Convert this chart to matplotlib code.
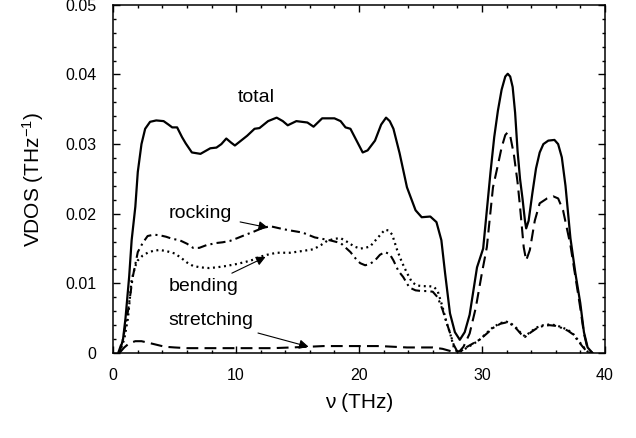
import numpy as np
import matplotlib
matplotlib.use("Agg")
import matplotlib.pyplot as plt
from matplotlib.ticker import MultipleLocator, FuncFormatter

plt.rcParams['font.family'] = ['Liberation Sans', 'DejaVu Sans']
plt.rcParams['mathtext.fontset'] = 'custom'
plt.rcParams['mathtext.rm'] = 'Liberation Sans'
plt.rcParams['mathtext.it'] = 'Liberation Sans:italic'
plt.rcParams['lines.scale_dashes'] = False

# total VDOS
nu_total = [0.5, 0.8, 1.0, 1.3, 1.5, 1.8, 2.0, 2.3, 2.6, 3.0, 3.5, 4.1, 4.5, 4.8, 5.2,
            5.6, 5.9, 6.4, 7.1, 7.5, 7.9, 8.4, 8.8, 9.2, 9.6, 9.9, 10.4, 10.9, 11.5,
            11.9, 12.6, 13.3, 13.8, 14.2, 14.9, 15.8, 16.3, 17.0, 18.0, 18.5, 18.9,
            19.3, 19.8, 20.3, 20.7, 21.3, 21.8, 22.2, 22.5, 22.8, 23.3, 23.9, 24.6,
            25.1, 25.8, 26.3, 26.7, 27.0, 27.4, 27.8, 28.2, 28.6, 29.0, 29.6, 30.1,
            30.4, 30.7, 31.0, 31.3, 31.6, 31.9, 32.1, 32.3, 32.5, 32.7, 32.9, 33.1,
            33.3, 33.5, 33.6, 33.8, 34.1, 34.4, 34.7, 35.0, 35.4, 35.9, 36.2, 36.5,
            36.8, 37.2, 37.6, 38.0, 38.3, 38.6, 39.0]
vdos_total = [0.0, 0.002, 0.005, 0.011, 0.0162, 0.021, 0.026, 0.030, 0.0322, 0.0332,
              0.0334, 0.0333, 0.0328, 0.0324, 0.0324, 0.0310, 0.0301, 0.0288, 0.0286,
              0.0290, 0.0294, 0.0295, 0.0300, 0.0308, 0.0302, 0.0298, 0.0305, 0.0312,
              0.0322, 0.0323, 0.0333, 0.0338, 0.0333, 0.0327, 0.0333, 0.0331, 0.0325,
              0.0337, 0.0337, 0.0333, 0.0324, 0.0322, 0.0305, 0.0288, 0.0291, 0.0305,
              0.0328, 0.0338, 0.0333, 0.0322, 0.0287, 0.0238, 0.0205, 0.0195, 0.0196,
              0.0188, 0.0162, 0.0115, 0.0057, 0.0030, 0.0019, 0.0030, 0.0055, 0.0123,
              0.0150, 0.0205, 0.0260, 0.0310, 0.0348, 0.0378, 0.0397, 0.0401, 0.0397,
              0.0382, 0.0345, 0.0290, 0.0250, 0.0222, 0.0190, 0.0179, 0.0190, 0.0229,
              0.0265, 0.0288, 0.0300, 0.0305, 0.0306, 0.0300, 0.0281, 0.0240, 0.0165,
              0.0115, 0.0072, 0.0030, 0.0008, 0.0]

# rocking
nu_rock = [0.4, 0.8, 1.2, 1.6, 2.0, 2.4, 2.8, 3.3, 3.8, 4.3, 4.8, 5.4, 6.0, 6.5, 7.0,
           7.6, 8.4, 8.9, 9.5, 10.1, 10.8, 11.4, 12.2, 12.8, 13.3, 13.8, 14.4, 15.4,
           16.4, 17.6, 18.5, 19.3, 19.8, 20.1, 20.5, 20.9, 21.3, 21.7, 22.1, 22.5,
           22.8, 23.2, 23.6, 24.1, 24.6, 25.1, 25.6, 26.0, 26.4, 26.8, 27.1, 27.4,
           27.7, 28.0, 28.4, 28.8, 29.3, 29.8, 30.4, 30.9, 31.5, 32.0, 32.4, 32.8,
           33.2, 33.5, 34.0, 34.5, 35.0, 35.5, 36.0, 36.5, 37.0, 37.4, 37.8, 38.2,
           38.6, 39.0]
vdos_rock = [0.0, 0.002, 0.006, 0.011, 0.0145, 0.0158, 0.0168, 0.0170, 0.0169, 0.0167,
             0.0164, 0.0162, 0.0157, 0.0151, 0.0151, 0.0155, 0.0158, 0.0159, 0.0161,
             0.0165, 0.0170, 0.0174, 0.0180, 0.0182, 0.0180, 0.0178, 0.0176, 0.0173,
             0.0166, 0.0162, 0.0158, 0.0145, 0.0134, 0.0129, 0.0126, 0.0128, 0.0133,
             0.0141, 0.0145, 0.0142, 0.0133, 0.0118, 0.0109, 0.0094, 0.0090, 0.0089,
             0.0089, 0.0088, 0.0080, 0.0062, 0.0045, 0.0029, 0.0012, 0.0002, 0.0004,
             0.0009, 0.0014, 0.0019, 0.0028, 0.0036, 0.0042, 0.0044, 0.0041, 0.0035,
             0.0027, 0.0023, 0.0030, 0.0036, 0.0039, 0.0040, 0.0039, 0.0036, 0.0032,
             0.0027, 0.0018, 0.0009, 0.0001, 0.0]

# bending
nu_bend = [0.5, 0.9, 1.2, 1.5, 1.8, 2.0, 2.4, 2.8, 3.3, 3.8, 4.4, 5.0, 5.5, 6.0, 6.5,
           7.1, 7.8, 8.4, 9.2, 10.1, 10.8, 11.4, 11.9, 12.5, 13.3, 14.4, 15.2, 16.3,
           16.9, 17.4, 18.0, 18.5, 19.1, 19.6, 20.1, 20.5, 20.9, 21.5, 22.1, 22.4,
           22.7, 23.1, 23.5, 23.9, 24.3, 24.7, 25.2, 25.7, 26.1, 26.4, 26.8, 27.1,
           27.4, 27.7, 28.0, 28.4, 28.8, 29.3, 29.8, 30.4, 30.9, 31.5, 32.0, 32.4,
           32.8, 33.2, 33.5, 34.0, 34.5, 35.0, 35.5, 36.0, 36.5, 37.0, 37.4, 37.8,
           38.2, 38.6, 39.0]
vdos_bend = [0.0, 0.002, 0.005, 0.0105, 0.0125, 0.0133, 0.0140, 0.0144, 0.0147, 0.0148,
             0.0146, 0.0143, 0.0137, 0.0130, 0.0125, 0.0123, 0.0122, 0.0123, 0.0125,
             0.0128, 0.0131, 0.0134, 0.0138, 0.0141, 0.0144, 0.0144, 0.0146, 0.0149,
             0.0155, 0.0161, 0.0164, 0.0165, 0.0159, 0.0153, 0.0150, 0.0151, 0.0153,
             0.0165, 0.0177, 0.0176, 0.0170, 0.0148, 0.0130, 0.0115, 0.0102, 0.0097,
             0.0096, 0.0096, 0.0095, 0.0089, 0.0066, 0.0045, 0.0029, 0.0009, 0.0001,
             0.0003, 0.0008, 0.0013, 0.0019, 0.0029, 0.0037, 0.0043, 0.0045, 0.0042,
             0.0036, 0.0028, 0.0024, 0.0031, 0.0037, 0.0040, 0.0041, 0.0040, 0.0037,
             0.0033, 0.0028, 0.0019, 0.0010, 0.0002, 0.0]

# stretching
nu_str = [0.5, 0.9, 1.3, 1.8, 2.3, 2.8, 3.5, 4.2, 5.0, 6.0, 7.1, 8.5, 10.0, 11.5, 13.0,
          14.5, 15.9, 17.1, 18.5, 19.8, 21.0, 21.7, 22.8, 23.9, 25.0, 26.0, 26.8,
          27.4, 27.8, 28.2, 28.5, 29.0, 29.5, 30.0, 30.4, 30.9, 31.3, 31.6, 31.9,
          32.1, 32.3, 32.6, 32.9, 33.1, 33.4, 33.6, 33.9, 34.3, 34.7, 35.3, 35.8,
          36.2, 36.6, 36.9, 37.2, 37.6, 38.0, 38.3, 38.6, 39.0]
vdos_str = [0.0, 0.0008, 0.0014, 0.0017, 0.0017, 0.0015, 0.0012, 0.0009, 0.0008,
            0.0007, 0.0007, 0.0007, 0.0007, 0.0007, 0.0007, 0.0008, 0.0009, 0.0010,
            0.0010, 0.0010, 0.0010, 0.0010, 0.0009, 0.0008, 0.0008, 0.0008, 0.0006,
            0.0003, 0.0001, 0.0003, 0.0009, 0.0028, 0.0065, 0.0115, 0.0152, 0.0238,
            0.0270, 0.0295, 0.0313, 0.0317, 0.0312, 0.0285, 0.0245, 0.0210, 0.0152,
            0.0133, 0.0148, 0.0190, 0.0215, 0.0222, 0.0225, 0.0222, 0.0205, 0.0180,
            0.0155, 0.0110, 0.0065, 0.0028, 0.0006, 0.0]

xticks = [0, 10, 20, 30, 40]
yticks = [0, 0.01, 0.02, 0.03, 0.04, 0.05]

fig = plt.figure(figsize=(6.36, 4.38), dpi=100)
ax = fig.add_axes([0.178, 0.194, 0.773, 0.795])

ax.plot(nu_total, vdos_total, color='k', lw=1.6)
ax.plot(nu_rock, vdos_rock, color='k', lw=1.5, dashes=(6.5, 3, 1.5, 3))
ax.plot(nu_bend, vdos_bend, color='k', lw=1.6, dashes=(1.4, 2.6))
ax.plot(nu_str, vdos_str, color='k', lw=1.5, dashes=(8.5, 4.5))

ax.set_xlim(0, 40)
ax.set_ylim(0, 0.05)
ax.set_xticks(xticks)
ax.set_yticks(yticks)
ax.yaxis.set_major_formatter(FuncFormatter(lambda v, p: '0' if v == 0 else f'{v:.2f}'))
ax.xaxis.set_minor_locator(MultipleLocator(2))
ax.yaxis.set_minor_locator(MultipleLocator(0.002))
ax.tick_params(which='both', direction='in', top=True, right=True, width=1.0)
ax.tick_params(which='major', length=5)
ax.tick_params(which='minor', length=2.5)
ax.tick_params(axis='x', which='major', pad=11, labelsize=11.5)
ax.tick_params(axis='y', which='major', pad=12, labelsize=11.5)
for s in ax.spines.values():
    s.set_linewidth(1.1)

ax.set_xlabel('ν (THz)', fontsize=15, labelpad=7)
ax.set_ylabel(r'VDOS (THz$^{-1}$)', fontsize=15, labelpad=14)

arrow = dict(arrowstyle='-|>', color='k', lw=0.8, mutation_scale=14, shrinkA=4, shrinkB=0)
ax.text(11.6, 0.0367, 'total', fontsize=14, ha='center', va='center')
ax.annotate('rocking', xy=(12.6, 0.0180), xytext=(4.5, 0.0200), fontsize=14,
            va='center', arrowprops=arrow)
ax.annotate('bending', xy=(12.4, 0.0138), xytext=(4.5, 0.0095), fontsize=14,
            va='center', arrowprops=arrow)
ax.annotate('stretching', xy=(15.9, 0.0009), xytext=(4.5, 0.0047), fontsize=14,
            va='center', arrowprops=arrow)

fig.savefig('out.png', dpi=100)
